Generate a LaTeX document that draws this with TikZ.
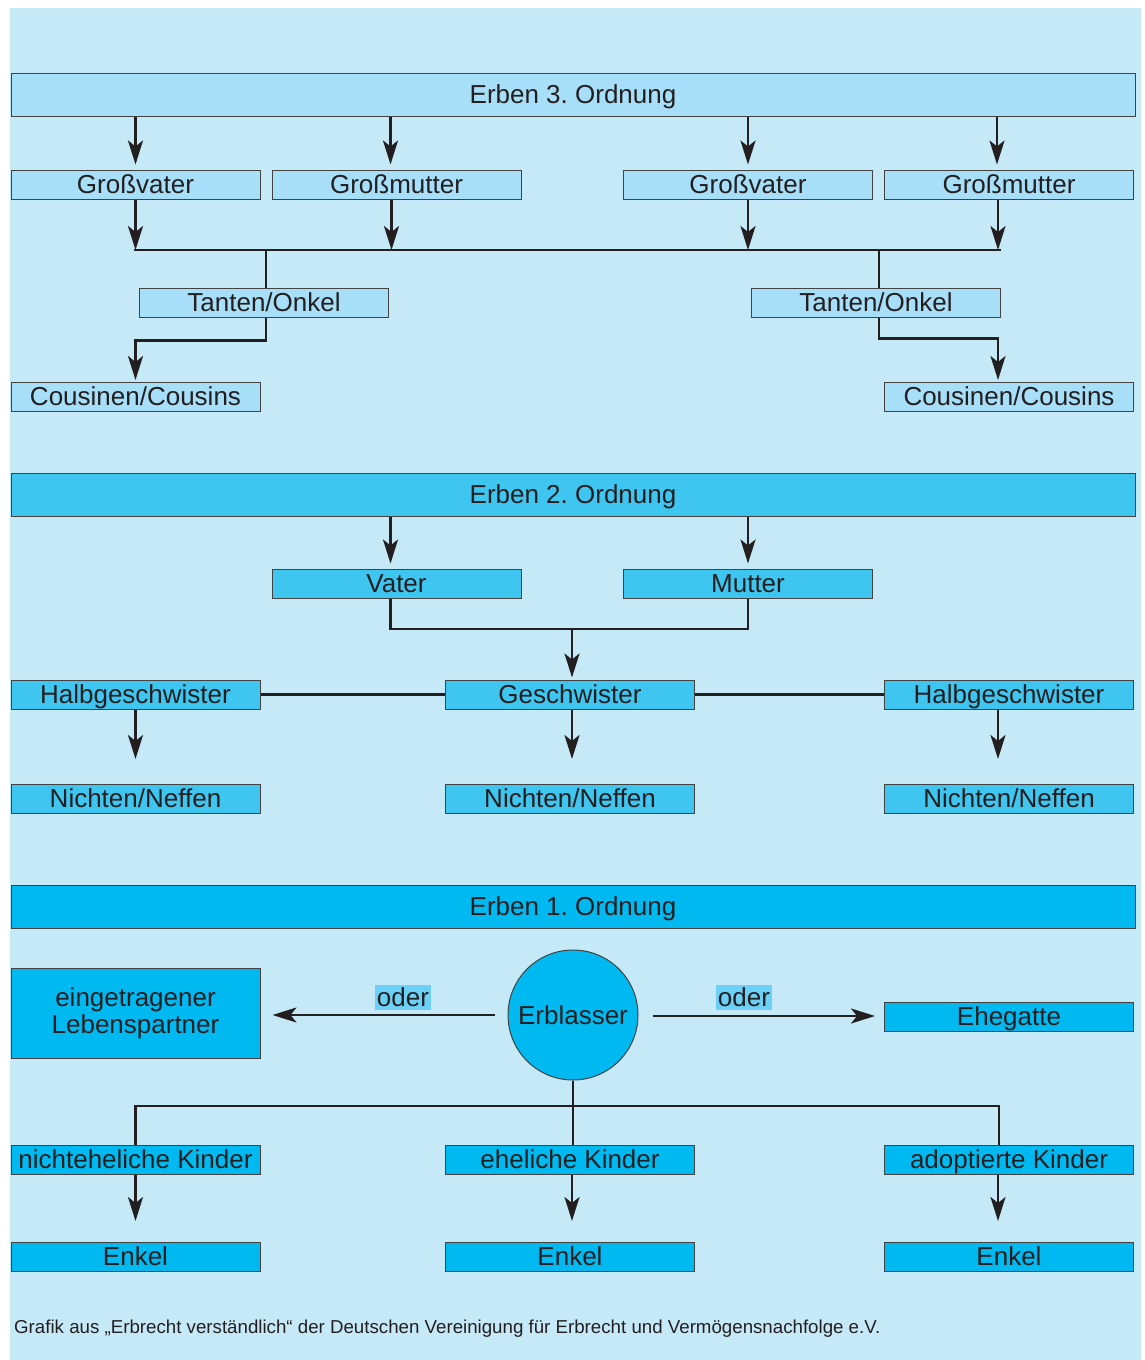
\documentclass[tikz,border=0pt]{standalone}
\usepackage{fontspec}
\setmainfont{Liberation Sans}
\usetikzlibrary{arrows.meta}
\definecolor{bgc}{HTML}{C6E9F8}
\definecolor{cthree}{HTML}{A8DFF8}
\definecolor{ctwo}{HTML}{3EC5F0}
\definecolor{cone}{HTML}{00B9F0}
\definecolor{hlc}{HTML}{6CCFF5}
\definecolor{ink}{HTML}{231F20}
\frenchspacing
\begin{document}
\begin{tikzpicture}[x=1pt,y=-1pt,
  every node/.style={font=\fontsize{26}{30}\selectfont, text=ink},
  box/.style={draw=ink!85, line width=1pt, minimum width=249pt, minimum height=29pt, inner sep=0pt, text height=20pt, text depth=3pt},
  head/.style={box, minimum width=1124pt, minimum height=43pt},
  lvthree/.style={fill=cthree},
  lvtwo/.style={fill=ctwo},
  lvone/.style={fill=cone},
  conn/.style={draw=ink, line width=2.6pt},
  arr/.style={conn, -{Stealth[length=24pt,width=15pt,inset=6pt]}},
  oder/.style={fill=hlc, inner xsep=2pt, inner ysep=1pt, text height=20pt, text depth=3pt}
]
\useasboundingbox (0,0) rectangle (1144,1360);
\fill[bgc] (10,8) rectangle (1141,1360);

% ---- Erben 3. Ordnung
\node[head,lvthree] (e3) at (573,94.5) {Erben 3. Ordnung};
\node[box,lvthree] (gv1) at (135.5,184.5) {Großvater};
\node[box,lvthree] (gm1) at (396.5,184.5) {Großmutter};
\node[box,lvthree] (gv2) at (748,184.5) {Großvater};
\node[box,lvthree] (gm2) at (1009,184.5) {Großmutter};
\node[box,lvthree] (to1) at (264,302.5) {Tanten/Onkel};
\node[box,lvthree] (to2) at (876,302.5) {Tanten/Onkel};
\node[box,lvthree] (co1) at (135.5,397) {Cousinen/Cousins};
\node[box,lvthree] (co2) at (1009,397) {Cousinen/Cousins};

\draw[arr, shorten >=5pt] (e3.south -| gv1.north) -- (gv1.north);
\draw[arr, shorten >=5pt] ([xshift=-6pt]gm1.north |- e3.south) -- ([xshift=-6pt]gm1.north);
\draw[arr, shorten >=5pt] (e3.south -| gv2.north) -- (gv2.north);
\draw[arr, shorten >=5pt] ([xshift=-12pt]gm2.north |- e3.south) -- ([xshift=-12pt]gm2.north);

\coordinate (hl3l) at (134,250);
\coordinate (hl3r) at (1001,250);
\draw[conn] (hl3l) -- (hl3r);
\draw[arr] (gv1.south) -- (gv1.south |- hl3l);
\draw[arr] ([xshift=-5pt]gm1.south) -- ([xshift=-5pt]gm1.south |- hl3l);
\draw[arr] (gv2.south) -- (gv2.south |- hl3l);
\draw[arr] ([xshift=-11pt]gm2.south) -- ([xshift=-11pt]gm2.south |- hl3l);
\draw[conn] ([xshift=2pt]to1.north |- hl3l) -- ([xshift=2pt]to1.north);
\draw[conn] ([xshift=3pt]to2.north |- hl3r) -- ([xshift=3pt]to2.north);
\draw[arr, shorten >=2pt] ([xshift=2pt]to1.south) -- ++(0,23) -| (co1.north);
\draw[arr, shorten >=2pt] ([xshift=3pt]to2.south) -- ++(0,21) -| ([xshift=-11pt]co2.north);

% ---- Erben 2. Ordnung
\node[head,lvtwo] (e2) at (573,494.5) {Erben 2. Ordnung};
\node[box,lvtwo] (va) at (396.5,583.5) {Vater};
\node[box,lvtwo] (mu) at (748,583.5) {Mutter};
\node[box,lvtwo] (hg1) at (135.5,694.5) {Halbgeschwister};
\node[box,lvtwo] (gs) at (570,694.5) {Geschwister};
\node[box,lvtwo] (hg2) at (1009,694.5) {Halbgeschwister};
\node[box,lvtwo] (nn1) at (135.5,799) {Nichten/Neffen};
\node[box,lvtwo] (nn2) at (570,799) {Nichten/Neffen};
\node[box,lvtwo] (nn3) at (1009,799) {Nichten/Neffen};

\draw[arr, shorten >=5pt] ([xshift=-6pt]va.north |- e2.south) -- ([xshift=-6pt]va.north);
\draw[arr, shorten >=5pt] (e2.south -| mu.north) -- (mu.north);
\coordinate (j2) at (572,629);
\draw[conn] ([xshift=-6pt]va.south) |- (j2) -| (mu.south);
\draw[arr, shorten >=2pt] (j2) -- (j2 |- gs.north);
\draw[conn] (hg1.east) -- (gs.west);
\draw[conn] (gs.east) -- (hg2.west);
\draw[arr, shorten >=25pt] (hg1.south) -- (nn1.north);
\draw[arr, shorten >=25pt] ([xshift=2pt]gs.south) -- ([xshift=2pt]nn2.north);
\draw[arr, shorten >=25pt] ([xshift=-11pt]hg2.south) -- ([xshift=-11pt]nn3.north);

% ---- Erben 1. Ordnung
\node[head,lvone] (e1) at (573,906.5) {Erben 1. Ordnung};
\node[draw=ink!85, line width=1pt, fill=cone, circle, minimum size=130pt, inner sep=0pt] (erb) at (573,1015) {Erblasser};
\node[box,lvone, minimum height=90pt, align=center, text height=, text depth=, font=\fontsize{26}{27}\selectfont] (lp) at (135.5,1013) {eingetragener\\Lebenspartner};
\node[box,lvone] (eh) at (1009,1017) {Ehegatte};
\node[box,lvone] (k1) at (135.5,1160) {nichteheliche Kinder};
\node[box,lvone] (k2) at (570,1160) {eheliche Kinder};
\node[box,lvone] (k3) at (1009,1160) {adoptierte Kinder};
\node[box,lvone] (en1) at (135.5,1257) {Enkel};
\node[box,lvone] (en2) at (570,1257) {Enkel};
\node[box,lvone] (en3) at (1009,1257) {Enkel};

\draw[arr, shorten <=13pt, shorten >=12pt] (erb.west) -- (erb.west -| lp.east);
\draw[arr, shorten <=14pt, shorten >=9pt] ([yshift=-1pt]erb.east) -- ([yshift=-1pt]erb.east -| eh.west);
\node[oder] (o1) at (403,997.5) {oder};
\node[oder] (o2) at (744,997.5) {oder};

\coordinate (j1) at (573,1106);
\draw[conn] (erb.south) -- (erb.south |- k2.north);
\draw[conn] (k1.north) |- (j1) -| ([xshift=-10pt]k3.north);
\draw[arr, shorten >=21pt] (k1.south) -- (en1.north);
\draw[arr, shorten >=21pt] ([xshift=2pt]k2.south) -- ([xshift=2pt]en2.north);
\draw[arr, shorten >=21pt] ([xshift=-11pt]k3.south) -- ([xshift=-11pt]en3.north);

\node[anchor=base west, font=\fontsize{18.7}{21}\selectfont, inner sep=0pt] (cap) at (14,1333)
  {Grafik aus „Erbrecht verständlich“ der Deutschen Vereinigung für Erbrecht und Vermögensnachfolge e.V.};
\end{tikzpicture}
\end{document}
